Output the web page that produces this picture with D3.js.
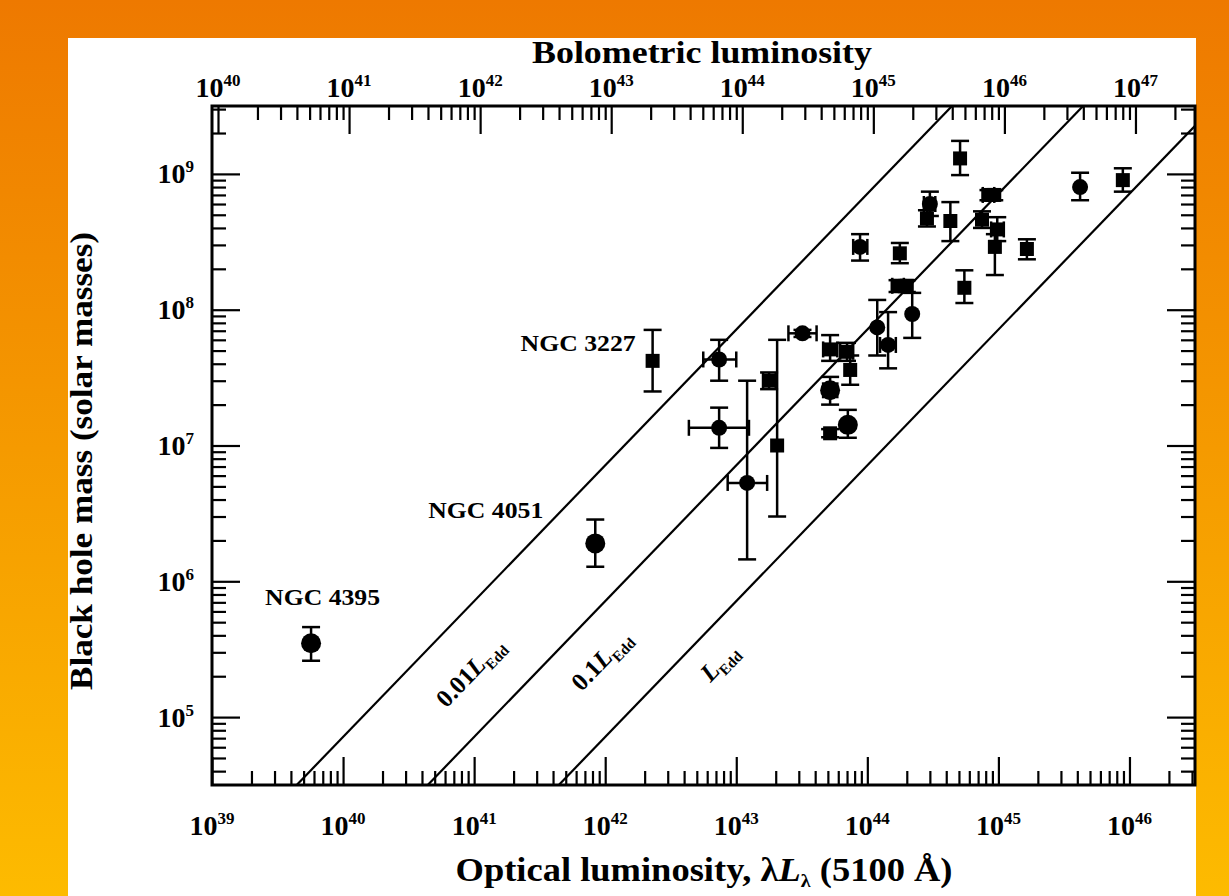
<!DOCTYPE html>
<html>
<head>
<meta charset="utf-8">
<script src="https://cdn.jsdelivr.net/npm/d3@7"></script>
<style>
  html, body { margin: 0; padding: 0; }
  body { width: 1229px; height: 896px; overflow: hidden; }
  svg text { font-family: "Liberation Serif", "Times New Roman", serif; font-weight: bold; fill: #000; }
</style>
</head>
<body>
<svg id="chart" width="1229" height="896"></svg>
<script>
// Optical luminosity lambda*L_lambda(5100 A), erg/s
const lumOpt   = [5.7e39, 8.4e41, 2.3e42, 7.4e42, 7.4e42, 1.21e43, 2.05e43, 1.78e43, 3.2e43, 5.2e43,
                  7.0e43, 7.4e43, 5.2e43, 5.2e43, 7.1e43, 1.19e44, 1.44e44, 2.2e44, 1.7e44, 2.0e44,
                  1.77e44, 8.8e43, 3.0e44, 2.85e44, 4.3e44, 5.1e44, 5.5e44, 8.4e44, 9.3e44, 7.5e44,
                  9.8e44, 9.4e44, 1.65e45, 4.2e45, 8.9e45];
// Luminosity error range (null = no horizontal bar)
const lumLow   = [null, null, null, 5.6e42, 4.35e42, 8.6e42, null, 1.6e43, 2.5e43, 4.6e43,
                  6.2e43, null, 4.6e43, null, null, null, 1.25e44, null, 1.55e44, null,
                  null, 7.8e43, 2.7e44, null, null, null, null, 7.6e44, null, null,
                  8.8e44, null, null, null, null];
const lumHigh  = [null, null, null, 1.0e43, 1.25e43, 1.72e43, null, 2.0e43, 4.1e43, 5.9e43,
                  7.8e43, null, 5.9e43, null, null, null, 1.65e44, null, 1.9e44, null,
                  null, 1.0e44, 3.3e44, null, null, null, null, 9.3e44, null, null,
                  1.1e45, null, null, null, null];
// Black hole mass, solar masses
const bhMass   = [3.5e5, 1.9e6, 4.2e7, 4.3e7, 1.35e7, 5.3e6, 1.0e7, 3.0e7, 6.7e7, 5.1e7,
                  4.9e7, 3.6e7, 2.55e7, 1.23e7, 1.42e7, 7.4e7, 5.5e7, 9.3e7, 1.5e8, 1.5e8,
                  2.6e8, 2.9e8, 6.0e8, 4.7e8, 4.5e8, 1.3e9, 1.45e8, 7.0e8, 7.0e8, 4.6e8,
                  3.9e8, 2.9e8, 2.8e8, 8.0e8, 9.0e8];
const massLow  = [2.6e5, 1.28e6, 2.5e7, 3.0e7, 9.6e6, 1.45e6, 3.0e6, 2.6e7, 6.3e7, 4.2e7,
                  4.2e7, 2.8e7, 2.0e7, 1.15e7, 1.14e7, 4.6e7, 3.7e7, 6.2e7, 1.35e8, 1.35e8,
                  2.2e8, 2.3e8, 4.9e8, 4.1e8, 3.2e8, 9.8e8, 1.12e8, 6.4e8, 6.4e8, 4.0e8,
                  3.2e8, 1.8e8, 2.35e8, 6.4e8, 7.4e8];
const massHigh = [4.6e5, 2.85e6, 7.1e7, 6.0e7, 1.9e7, 3.0e7, 6.0e7, 3.45e7, 7.1e7, 6.5e7,
                  5.7e7, 4.6e7, 3.2e7, 1.32e7, 1.83e7, 1.18e8, 9.6e7, 1.33e8, 1.65e8, 1.65e8,
                  3.1e8, 3.6e8, 7.4e8, 5.4e8, 6.2e8, 1.75e9, 1.95e8, 7.6e8, 7.6e8, 5.3e8,
                  4.8e8, 3.6e8, 3.3e8, 1.02e9, 1.1e9];
// Marker: "c" circle, "C" large circle, "s" square
const markerShape = ["C", "C", "s", "c", "c", "c", "s", "s", "c", "s",
                     "s", "s", "C", "s", "C", "c", "c", "c", "s", "s",
                     "s", "c", "c", "s", "s", "s", "s", "s", "s", "s",
                     "s", "s", "s", "c", "s"];

// Named objects
const namedLabels = ["NGC 4395", "NGC 4051", "NGC 3227"];
const namedLum    = [5.7e39, 8.4e41, 2.3e42];
const namedMass   = [3.5e5, 1.9e6, 4.2e7];

// Eddington ratios drawn as diagonal lines
const eddRatios     = [0.01, 0.1, 1];
const eddPrefix     = ["0.01", "0.1", ""];
const L_EDD_PER_MSUN = 1.26e38;   // erg/s per solar mass
const BOL_CORRECTION = 9;         // L_bol = 9 * lambda L_lambda(5100 A)

// Tick decades
const xDecades   = [39, 40, 41, 42, 43, 44, 45, 46];
const bolDecades = [40, 41, 42, 43, 44, 45, 46, 47];
const yDecades   = [5, 6, 7, 8, 9];

const svg = d3.select("#chart");
const W = 1229, H = 896;
const plot = { left: 212, right: 1195, top: 106, bottom: 785 };

// Background
const defs = svg.append("defs");
const grad = defs.append("linearGradient").attr("id", "bg").attr("x1", 0).attr("y1", 0).attr("x2", 0).attr("y2", 1);
grad.append("stop").attr("offset", "0%").attr("stop-color", "#ee7900");
grad.append("stop").attr("offset", "50%").attr("stop-color", "#f59a00");
grad.append("stop").attr("offset", "100%").attr("stop-color", "#fdbb00");
svg.append("rect").attr("width", W).attr("height", H).attr("fill", "url(#bg)");
svg.append("rect").attr("x", 68).attr("y", 38).attr("width", plot.right + 1 - 68).attr("height", H - 38).attr("fill", "#ffffff");

defs.append("clipPath").attr("id", "plotclip").append("rect")
  .attr("x", plot.left).attr("y", plot.top)
  .attr("width", plot.right - plot.left).attr("height", plot.bottom - plot.top);

// Scales
const x = d3.scaleLog().domain([1e39, Math.pow(10, 46.5)]).range([plot.left, plot.right]);
const xBol = d3.scaleLog().domain([BOL_CORRECTION * 1e39, BOL_CORRECTION * Math.pow(10, 46.5)]).range([plot.left, plot.right]);
const y = d3.scaleLog().domain([Math.pow(10, 4.5), Math.pow(10, 9.5)]).range([plot.bottom, plot.top]);

function minorTicks(scale) {
  const [a, b] = scale.domain();
  const out = [];
  for (let e = Math.floor(Math.log10(a)); e <= Math.ceil(Math.log10(b)); e++) {
    for (let k = 2; k <= 9; k++) {
      const v = k * Math.pow(10, e);
      if (v > a && v < b) out.push(v);
    }
  }
  return out;
}
const pow10 = d => Math.pow(10, d);

const MAJOR = 28, MINOR = 14;
function drawAxis(axisFn, scale, transform, majors) {
  const gMaj = svg.append("g").attr("transform", transform)
    .call(axisFn(scale).tickValues(majors).tickSize(-MAJOR).tickSizeOuter(0).tickFormat(""));
  const gMin = svg.append("g").attr("transform", transform)
    .call(axisFn(scale).tickValues(minorTicks(scale)).tickSize(-MINOR).tickSizeOuter(0).tickFormat(""));
  [gMaj, gMin].forEach(g => {
    g.select(".domain").remove();
    g.selectAll(".tick line").attr("stroke", "#000").attr("stroke-width", 2.2);
  });
}
drawAxis(d3.axisBottom, x, `translate(0,${plot.bottom})`, xDecades.map(pow10));
drawAxis(d3.axisTop, xBol, `translate(0,${plot.top})`, bolDecades.map(pow10).filter(v => v >= xBol.domain()[0]));
drawAxis(d3.axisLeft, y, `translate(${plot.left},0)`, yDecades.map(pow10));
drawAxis(d3.axisRight, y, `translate(${plot.right},0)`, yDecades.map(pow10));

// Frame
svg.append("rect").attr("x", plot.left).attr("y", plot.top)
  .attr("width", plot.right - plot.left).attr("height", plot.bottom - plot.top)
  .attr("fill", "none").attr("stroke", "#000").attr("stroke-width", 3);

// Tick labels as 10^n
function powerLabel(g, px, py, n, anchor) {
  const t = g.append("text").attr("x", px).attr("y", py)
    .attr("text-anchor", anchor).attr("font-size", 28);
  t.append("tspan").text("10");
  t.append("tspan").attr("dy", -11).attr("font-size", 17).text(n);
  return t;
}
const labels = svg.append("g");
xDecades.forEach(d => powerLabel(labels, x(pow10(d)), 835, d, "middle"));
bolDecades.forEach(d => powerLabel(labels, xBol(pow10(d)), 97, d, "middle"));
yDecades.forEach(d => powerLabel(labels, 194, y(pow10(d)) + 9.5, d, "end"));

// Axis titles
svg.append("text").attr("x", 702).attr("y", 63).attr("text-anchor", "middle")
  .attr("font-size", 32).attr("textLength", 340).attr("lengthAdjust", "spacingAndGlyphs")
  .text("Bolometric luminosity");

const xt = svg.append("text").attr("x", 704).attr("y", 881).attr("text-anchor", "middle")
  .attr("font-size", 33).attr("textLength", 497).attr("lengthAdjust", "spacingAndGlyphs");
xt.append("tspan").text("Optical luminosity, λ");
xt.append("tspan").attr("font-style", "italic").text("L");
xt.append("tspan").attr("font-size", 18).attr("dy", 6).text("λ");
xt.append("tspan").attr("dy", -6).text(" (5100 Å)");

svg.append("text").attr("transform", "translate(92,461) rotate(-90)")
  .attr("text-anchor", "middle").attr("font-size", 32)
  .attr("textLength", 458).attr("lengthAdjust", "spacingAndGlyphs")
  .text("Black hole mass (solar masses)");

// Eddington-ratio lines
const massGrid = [1e3, 1e12];
const lineGen = d3.line().x(d => x(d[0])).y(d => y(d[1]));
const edd = svg.append("g").attr("clip-path", "url(#plotclip)");
eddRatios.forEach(r => {
  const pts = massGrid.map(m => [r * L_EDD_PER_MSUN * m / BOL_CORRECTION, m]);
  edd.append("path").attr("d", lineGen(pts)).attr("fill", "none")
    .attr("stroke", "#000").attr("stroke-width", 2.2);
});

// Rotated labels along the lines
const pxPerDecX = x(1e40) - x(1e39), pxPerDecY = y(1e5) - y(1e6);
const lineAngle = -Math.atan2(pxPerDecY, pxPerDecX) * 180 / Math.PI;
const eddLabelPos = [[476, 678], [607, 666], [725, 668]];
eddRatios.forEach((r, i) => {
  const t = svg.append("text")
    .attr("transform", `translate(${eddLabelPos[i][0]},${eddLabelPos[i][1]}) rotate(${lineAngle})`)
    .attr("text-anchor", "middle").attr("font-size", 25);
  if (eddPrefix[i]) t.append("tspan").text(eddPrefix[i]);
  t.append("tspan").attr("font-style", "italic").text("L");
  t.append("tspan").attr("font-size", 15).attr("dy", 6).text("Edd");
});

// Object names
const nameOffsets = [[11.5, -38], [-109.5, -25], [-74.5, -10]];
namedLabels.forEach((n, i) => {
  svg.append("text")
    .attr("x", x(namedLum[i]) + nameOffsets[i][0])
    .attr("y", y(namedMass[i]) + nameOffsets[i][1])
    .attr("text-anchor", "middle").attr("font-size", 24)
    .attr("textLength", 115).attr("lengthAdjust", "spacingAndGlyphs").text(n);
});

// Error bars and markers
const data = lumOpt.map((L, i) => ({
  L, M: bhMass[i], mLo: massLow[i], mHi: massHigh[i],
  lLo: lumLow[i], lHi: lumHigh[i], shape: markerShape[i]
}));
const pts = svg.append("g").attr("stroke", "#000").attr("stroke-width", 2.5);
const capY = 9, capX = 8;
data.forEach(d => {
  const cx = x(d.L), cy = y(d.M);
  const y0 = y(d.mLo), y1 = y(d.mHi);
  pts.append("line").attr("x1", cx).attr("x2", cx).attr("y1", y0).attr("y2", y1);
  pts.append("line").attr("x1", cx - capY).attr("x2", cx + capY).attr("y1", y0).attr("y2", y0);
  pts.append("line").attr("x1", cx - capY).attr("x2", cx + capY).attr("y1", y1).attr("y2", y1);
  if (d.lLo != null) {
    const x0 = x(d.lLo), x1 = x(d.lHi);
    pts.append("line").attr("x1", x0).attr("x2", x1).attr("y1", cy).attr("y2", cy);
    pts.append("line").attr("x1", x0).attr("x2", x0).attr("y1", cy - capX).attr("y2", cy + capX);
    pts.append("line").attr("x1", x1).attr("x2", x1).attr("y1", cy - capX).attr("y2", cy + capX);
  }
});
const symSize = { c: Math.PI * 8 * 8, C: Math.PI * 10 * 10, s: 14 * 14 };
svg.append("g").selectAll("path.mk").data(data).join("path")
  .attr("class", "mk")
  .attr("transform", d => `translate(${x(d.L)},${y(d.M)})`)
  .attr("d", d => d3.symbol().type(d.shape === "s" ? d3.symbolSquare : d3.symbolCircle).size(symSize[d.shape])())
  .attr("fill", "#000");
</script>
</body>
</html>
